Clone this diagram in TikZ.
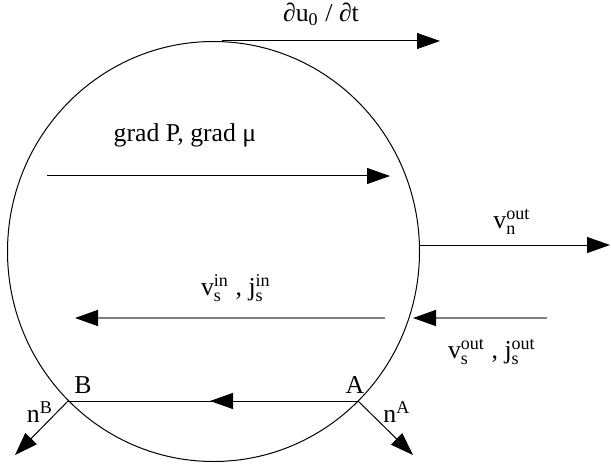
\documentclass[tikz,border=0pt]{standalone}
\usepackage{amsmath}
\usepackage{fontspec}
\setmainfont{Liberation Serif}
\usetikzlibrary{arrows.meta}
\tikzset{>={Triangle[length=9.2pt,width=6.4pt]}}
\colorlet{flowgray}{black!50}
\tikzset{
  flux/.style={->,line width=0.4pt},
  grayflux/.style={-{Triangle[length=9.2pt,width=6.4pt,color=black,fill=black]},flowgray,line width=0.6pt},
  lbl/.style={inner sep=0pt,font=\rmfamily\fontsize{10.3}{12}\selectfont},
}
\begin{document}
\begin{tikzpicture}[x=0.4pt,y=-0.4pt]
  \useasboundingbox (0,0) rectangle (611,465);
  % the drop
  \draw[line width=0.4pt] (213.5,251.5) ellipse [x radius=206, y radius=210];
  % end points of the flows
  \coordinate (topL) at (222,41);
  \coordinate (topR) at (440,41);
  \coordinate (gradL) at (47,176);
  \coordinate (gradR) at (390,176);
  \coordinate (vnL) at (419,245);
  \coordinate (vnR) at (610,245);
  \coordinate (inR) at (385,318);
  \coordinate (inL) at (75,318);
  \coordinate (outR) at (547,318);
  \coordinate (outL) at (413,318);
  \coordinate (A) at (358,401);
  \coordinate (B) at (68,401);
  \coordinate (mid) at (210,401);
  \coordinate (nAtip) at (413,455);
  \coordinate (nBtip) at (15,455);
  % flows
  \draw[flux] (topL) -- (topR);
  \draw[flux] (gradL) -- (gradR);
  \draw[flux] (vnL) -- (vnR);
  \draw[grayflux] (inR) -- (inL);
  \draw[grayflux] (outR) -- (outL);
  \draw[line width=0.4pt] (A) -- (B);
  \draw[flux] (A) -- (mid);
  \draw[flux] (B) -- (nBtip);
  \draw[flux] (A) -- (nAtip);
  % labels
  \node[lbl] (dudt) at (321,14) {∂u$_\text{0}$ / ∂t};
  \node[lbl] (grad) at (185,135) {grad P, grad μ};
  \node[lbl] (vn) at (512,222) {v$_\text{n}^\text{out}$};
  \node[lbl] (vsin) at (236,288) {v$_\text{s}^\text{in}$ , j$_\text{s}^\text{in}$};
  \node[lbl] (vsout) at (492,352) {v$_\text{s}^\text{out}$ , j$_\text{s}^\text{out}$};
  \node[lbl] (Alab) at (355,385) {A};
  \node[lbl] (Blab) at (83,385) {B};
  \node[lbl] (nA) at (397,412) {n$^\text{A}$};
  \node[lbl] (nB) at (40,412) {n$^\text{B}$};
\end{tikzpicture}
\end{document}
